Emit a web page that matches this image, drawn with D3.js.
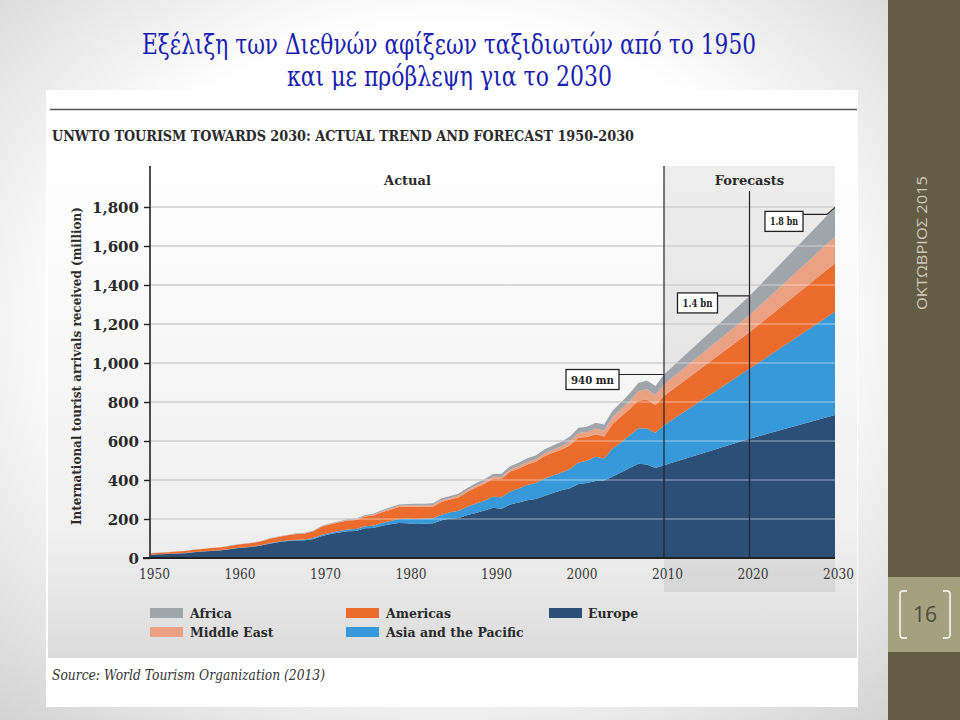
<!DOCTYPE html>
<html><head><meta charset="utf-8">
<script src="https://cdn.jsdelivr.net/npm/d3@7"></script>
<style>html,body{margin:0;padding:0;background:#fff;}svg{display:block;}</style>
</head><body>
<svg id="c" width="960" height="720"></svg>
<script>
const years = [1950,1951,1952,1953,1954,1955,1956,1957,1958,1959,
1960,1961,1962,1963,1964,1965,1966,1967,1968,1969,
1970,1971,1972,1973,1974,1975,1976,1977,1978,1979,
1980,1981,1982,1983,1984,1985,1986,1987,1988,1989,
1990,1991,1992,1993,1994,1995,1996,1997,1998,1999,
2000,2001,2002,2003,2004,2005,2006,2007,2008,2009,2010,2020,2030];
const europe = [17,19,21,23,25,30,33,36,39,44,
50,54,58,65,75,82,87,90,91,98,
113,123,131,137,139,152,154,165,173,180,
178,175,176,178,193,202,205,221,231,243,
258,253,275,284,296,302,318,333,348,358,
380,384,395,397,418,440,462,483,480,461,476,612,733];
const asiaPacific = [0.2,0.3,0.3,0.4,0.4,0.5,0.6,0.7,0.8,0.8,
0.9,1.1,1.3,1.6,1.8,2.1,2.6,3.2,3.8,4.8,
6.2,7,8,9,9.5,10.2,12,14,17,20,
23,25,26,26,29,32,37,42,48,51,
56,58,65,72,78,82,89,90,89,98,
110,115,124,113,144,154,167,182,184,181,205,358,530];
const americas = [7.5,8,8.7,9.3,10,12,13,14,14.5,15.5,
16.7,17.5,19,20.5,23,25,27,30,31,34,
42,43,44,46,47,50,52,55,58,61,
62,63,60,60,67,66,70,76,82,87,
93,96,103,103,106,109,115,117,119,122,
128,121,116,113,125,133,135,143,147,141,150,188,248];
const middleEast = [0.2,0.2,0.2,0.3,0.3,0.3,0.4,0.4,0.5,0.5,
0.6,0.7,0.8,0.9,1,1.1,1.2,1.3,1.5,1.7,
1.9,2.2,2.5,2.8,3.2,3.5,4.2,5,5.8,6.5,
7.1,7.5,7.8,8,8.2,8.3,8.5,8.9,9.2,9.4,
9.6,8.5,10,11,12.5,13.7,14.5,15.5,16.5,19,
24,24.5,29,30,36,37,41,47,55,53,60,88,137];
const africa = [0.5,0.5,0.6,0.6,0.7,0.7,0.7,0.8,0.8,0.8,
0.8,0.9,1,1.1,1.2,1.4,1.6,1.8,2,2.2,
2.4,2.8,3.2,3.6,4,4.7,5,5.6,6.2,6.8,
7.2,7.8,8,8.5,9,9.7,9.8,10.5,12.5,14,
14.8,16,17.5,18.5,18.5,18.9,20.5,22,24,26,
26,28,29.5,31,33,35,40,43,44,46,50,98,150];

const seriesKeys = ["Europe","Asia and the Pacific","Americas","Middle East","Africa"];
const seriesValues = [europe, asiaPacific, americas, middleEast, africa];
const colors = ["#2c4f77","#3899da","#ec6c2e","#eba183","#a0a4ab"];
const yTicks = [0,200,400,600,800,1000,1200,1400,1600,1800];
const xTicks = [1950,1960,1970,1980,1990,2000,2010,2020,2030];
const legendRows = [["Africa","Middle East"],["Americas","Asia and the Pacific"],["Europe"]];
const annotations = [{year:2010,label:"940 mn"},{year:2020,label:"1.4 bn"},{year:2030,label:"1.8 bn"}];

const rows = years.map((yr,i)=>{const o={year:yr}; seriesKeys.forEach((k,j)=>o[k]=seriesValues[j][i]); return o;});
const stacked = d3.stack().keys(seriesKeys)(rows);
const totals = rows.map(r=>seriesKeys.reduce((s,k)=>s+r[k],0));

const svg = d3.select("#c");
const defs = svg.append("defs");
const bg = defs.append("radialGradient").attr("id","bgG").attr("cx","0.5").attr("cy","0.45").attr("r","0.75");
bg.append("stop").attr("offset","0.55").attr("stop-color","#ffffff");
bg.append("stop").attr("offset","1").attr("stop-color","#d2d2d2");
const pg = defs.append("linearGradient").attr("id","panelG").attr("x1",0).attr("x2",0).attr("y1",0).attr("y2",1);
pg.append("stop").attr("offset","0").attr("stop-color","#ffffff");
pg.append("stop").attr("offset","0.75").attr("stop-color","#f0f0f0");
pg.append("stop").attr("offset","1").attr("stop-color","#dcdcdc");

// slide background
svg.append("rect").attr("width",888).attr("height",720).attr("fill","url(#bgG)");
// right strip
svg.append("rect").attr("x",888).attr("width",72).attr("height",720).attr("fill","#655c46");
svg.append("rect").attr("x",888).attr("y",577).attr("width",72).attr("height",75).attr("fill","#a5a17f");
svg.append("path").attr("d","M907,591 H903 Q900,591 900,594 V635 Q900,638 903,638 H907").attr("fill","none").attr("stroke","#fff").attr("stroke-width",1.4);
svg.append("path").attr("d","M943,591 H947 Q950,591 950,594 V635 Q950,638 947,638 H943").attr("fill","none").attr("stroke","#fff").attr("stroke-width",1.4);
svg.append("text").attr("x",925).attr("y",622).attr("text-anchor","middle").attr("font-family","Open Sans, sans-serif").attr("font-size",21).attr("fill","#4d4a40").text("16");
svg.append("text").attr("transform","translate(927,243) rotate(-90)").attr("text-anchor","middle")
  .attr("font-family","Open Sans, sans-serif").attr("font-size",14).attr("fill","#cdc9bb")
  .attr("textLength",134).attr("lengthAdjust","spacingAndGlyphs").text("ΟΚΤΩΒΡΙΟΣ 2015");

// title
const tfont = "'DejaVu Serif', serif";
svg.append("text").attr("x",142).attr("y",54).attr("font-family",tfont).attr("font-size",27).attr("fill","#1a1fb2")
  .attr("textLength",614).attr("lengthAdjust","spacingAndGlyphs").text("Εξέλιξη των Διεθνών αφίξεων ταξιδιωτών από το 1950");
svg.append("text").attr("x",287).attr("y",86).attr("font-family",tfont).attr("font-size",27).attr("fill","#1a1fb2")
  .attr("textLength",325).attr("lengthAdjust","spacingAndGlyphs").text("και με πρόβλεψη για το 2030");

// chart image box
svg.append("rect").attr("x",46).attr("y",90).attr("width",812).attr("height",617).attr("fill","#ffffff");
svg.append("line").attr("x1",50).attr("x2",857).attr("y1",109.5).attr("y2",109.5).attr("stroke","#555").attr("stroke-width",1.5);
svg.append("rect").attr("x",48).attr("y",150).attr("width",809).attr("height",508).attr("fill","url(#panelG)");
const sfont = "'DejaVu Serif', serif";
svg.append("text").attr("x",52).attr("y",141).attr("font-family",sfont).attr("font-weight","bold").attr("font-size",15).attr("fill","#2a2a2a")
  .attr("textLength",582).attr("lengthAdjust","spacingAndGlyphs").text("UNWTO TOURISM TOWARDS 2030: ACTUAL TREND AND FORECAST 1950-2030");

const x = d3.scaleLinear().domain([1950,2030]).range([151,835]);
const y = d3.scaleLinear().domain([0,1800]).range([558,207]);

// forecast shading
svg.append("rect").attr("x",x(2010)).attr("y",166).attr("width",x(2030)-x(2010)).attr("height",592-166).attr("fill","#000").attr("opacity",0.065);

// gridlines under
const g = svg.append("g");
g.selectAll("line.grid").data(yTicks.slice(1)).join("line").attr("class","grid")
  .attr("x1",x(1950)).attr("x2",x(2030)).attr("y1",d=>y(d)).attr("y2",d=>y(d)).attr("stroke","#bdbdbd").attr("stroke-width",1.6);

// areas
const area = d3.area().x(d=>x(d.data.year)).y0(d=>y(d[0])).y1(d=>y(d[1]));
g.selectAll("path.layer").data(stacked).join("path").attr("class","layer").attr("d",area).attr("fill",(d,i)=>colors[i]);

// gridlines over areas (light)
g.selectAll("line.grid2").data(yTicks.slice(1)).join("line").attr("class","grid2")
  .attr("x1",x(1950)).attr("x2",x(2030)).attr("y1",d=>y(d)).attr("y2",d=>y(d)).attr("stroke","#ffffff").attr("stroke-opacity",0.35).attr("stroke-width",1.6);

// vertical lines
svg.append("line").attr("x1",x(2010)).attr("x2",x(2010)).attr("y1",166).attr("y2",y(0)).attr("stroke","#222").attr("stroke-width",1.2);
svg.append("line").attr("x1",x(2020)).attr("x2",x(2020)).attr("y1",191).attr("y2",y(0)).attr("stroke","#222").attr("stroke-width",1.2);

// axes
const yAxis = d3.axisLeft(y).tickValues(yTicks).tickSize(7).tickFormat(d3.format(","));
const ya = svg.append("g").attr("transform",`translate(${x(1950)-1},0)`).call(yAxis);
ya.select(".domain").attr("d",`M0,166V${y(0)}`).attr("stroke","#222").attr("stroke-width",1.6);
ya.selectAll(".tick line").attr("stroke","#222").attr("stroke-width",1.4).attr("x1",-7).attr("x2",0);
ya.selectAll(".tick line").filter(d=>d!==0).attr("x1",-6);
ya.selectAll(".tick text").attr("font-family",sfont).attr("font-weight","bold").attr("font-size",15).attr("fill","#2a2a2a").attr("x",-11).attr("dy","0.36em");

const xAxis = d3.axisBottom(x).tickValues(xTicks).tickSize(0).tickFormat(d3.format("d"));
const xa = svg.append("g").attr("transform",`translate(0,${y(0)})`).call(xAxis);
xa.select(".domain").attr("d",`M${x(1950)-8},0H${x(2030)}`).attr("stroke","#222").attr("stroke-width",1.8);
xa.selectAll(".tick text").attr("font-family",sfont).attr("font-size",14).attr("fill","#3a3a3a").attr("dy","1.25em").attr("transform","translate(3,0)")
  .attr("textLength",31).attr("lengthAdjust","spacingAndGlyphs");

svg.append("text").attr("transform","translate(81,366) rotate(-90)").attr("text-anchor","middle")
  .attr("font-family",sfont).attr("font-weight","bold").attr("font-size",13).attr("fill","#2a2a2a")
  .attr("textLength",318).attr("lengthAdjust","spacingAndGlyphs").text("International tourist arrivals received (million)");

svg.append("text").attr("x",(x(1950)+x(2010))/2).attr("y",185).attr("text-anchor","middle").attr("font-family",sfont).attr("font-weight","bold").attr("font-size",13).attr("fill","#2a2a2a").text("Actual");
svg.append("text").attr("x",(x(2010)+x(2030))/2).attr("y",185).attr("text-anchor","middle").attr("font-family",sfont).attr("font-weight","bold").attr("font-size",13).attr("fill","#2a2a2a").text("Forecasts");

// annotations
const annG = svg.append("g").attr("font-family",sfont).attr("font-weight","bold").attr("font-size",11).attr("fill","#222");
annotations.forEach(a=>{
  const i = years.indexOf(a.year);
  const ty = y(totals[i]);
  let bx, bw, by, bh=20;
  if (a.year===2010){ bw=53; bx=x(2010)-98; by=ty-5; annG.append("line").attr("x1",bx+bw).attr("x2",x(2010)).attr("y1",ty).attr("y2",ty).attr("stroke","#222").attr("stroke-width",1.1); }
  if (a.year===2020){ bw=40; bx=x(2020)-72; by=ty-3; annG.append("line").attr("x1",bx+bw).attr("x2",x(2020)).attr("y1",ty).attr("y2",ty).attr("stroke","#222").attr("stroke-width",1.1); }
  if (a.year===2030){ bw=38; bx=x(2030)-70; by=ty+4; annG.append("path").attr("d",`M${bx+bw},${by+3}H${x(2030)-8}L${x(2030)},${ty}`).attr("fill","none").attr("stroke","#222").attr("stroke-width",1.1); }
  annG.append("rect").attr("x",bx).attr("y",by).attr("width",bw).attr("height",bh).attr("fill","#fff").attr("stroke","#222").attr("stroke-width",1.3);
  annG.append("text").attr("x",bx+bw/2).attr("y",by+14).attr("text-anchor","middle").attr("textLength",bw-10).attr("lengthAdjust","spacingAndGlyphs").text(a.label);
});

// legend
const legPos = [[150,190],[346,386],[549,588]];
const lg = svg.append("g").attr("font-family",sfont).attr("font-weight","bold").attr("font-size",12.5).attr("fill","#2a2a2a");
legendRows.forEach((col,ci)=>{
  col.forEach((name,ri)=>{
    const idx = seriesKeys.indexOf(name);
    const yy = 608 + ri*19;
    lg.append("rect").attr("x",legPos[ci][0]).attr("y",yy).attr("width",33).attr("height",10).attr("fill",colors[idx]);
    lg.append("text").attr("x",legPos[ci][1]).attr("y",yy+10).text(name);
  });
});

svg.append("text").attr("x",52).attr("y",680).attr("font-family",sfont).attr("font-style","italic").attr("font-size",14).attr("fill","#333")
  .attr("textLength",273).attr("lengthAdjust","spacingAndGlyphs").text("Source: World Tourism Organization (2013)");
</script>
</body></html>
